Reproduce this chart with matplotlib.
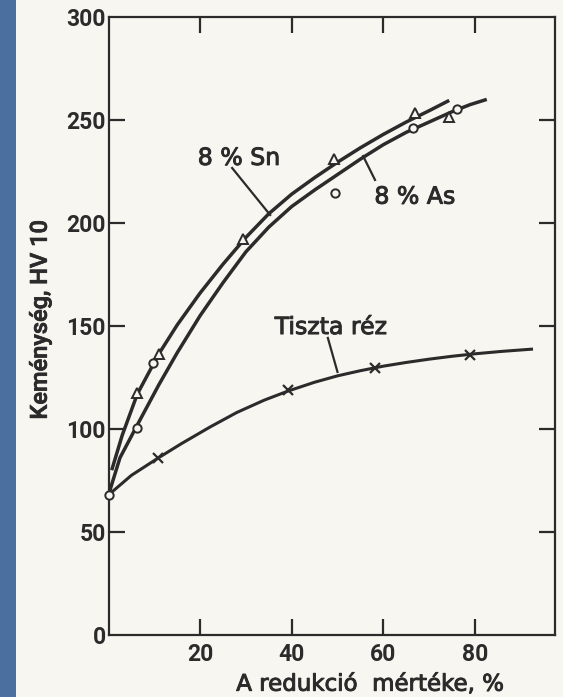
import matplotlib
matplotlib.use("Agg")
import matplotlib.pyplot as plt
from matplotlib.patches import Rectangle
import matplotlib.patheffects as pe

# ---- data ----
sn_curve_x = [0.7, 3, 6.3, 11, 15, 20, 25, 30, 35, 40, 45, 50, 55, 60, 65, 70, 74.4]
sn_curve_y = [80, 97, 117, 136.5, 150.5, 166, 180, 193, 204.5, 214, 222, 229.5, 236.5, 243, 249, 254.5, 259.5]
sn_mark_x = [6.3, 11.1, 29.4, 49.2, 66.9, 74.4]
sn_mark_y = [117.3, 136.4, 192.1, 230.9, 253.3, 251.3]

as_curve_x = [0, 2.5, 6.3, 11, 15, 20, 25, 30, 35, 40, 45, 50, 55, 60, 65, 70, 75, 79, 82.6]
as_curve_y = [68, 86, 102, 121.5, 137, 155, 171, 186, 198, 208, 216, 223.5, 231, 238, 244, 249, 254, 257.5, 260]
as_mark_x = [0.0, 6.3, 9.7, 49.5, 66.6, 76.0]
as_mark_y = [68.0, 100.5, 131.9, 214.6, 246.0, 255.3]

cu_curve_x = [0, 5, 10.9, 16, 22.2, 28, 34, 39.3, 45, 50, 55, 60, 65, 70, 75, 80, 86, 92.7]
cu_curve_y = [68, 77.5, 86, 93, 101, 108, 114, 118.5, 122.7, 125.8, 128.3, 130.5, 132.3, 133.9, 135.3, 136.5, 137.7, 138.8]
cu_mark_x = [10.9, 39.3, 58.2, 78.9]
cu_mark_y = [85.8, 119.0, 129.7, 135.9]

x_ticks = [20, 40, 60, 80]
y_ticks = [50, 100, 150, 200, 250]
y_end_ticks = [0, 300]

paper = "#f7f6f0"
ink = "#2b2b2b"

fig = plt.figure(figsize=(5.63, 6.97), dpi=100, facecolor=paper)
fig.patches.append(Rectangle((0, 0), 15.5 / 563, 1, transform=fig.transFigure,
                             facecolor="#4b6f9f", edgecolor="none", zorder=-10))

ax = fig.add_axes([108.5 / 563, 1 - 635 / 697, (555 - 108.5) / 563, (635 - 17) / 697])
ax.set_facecolor(paper)
ax.set_xlim(0, 97.5)
ax.set_ylim(0, 300)

for s in ax.spines.values():
    s.set_color(ink)
    s.set_linewidth(1.6)

lw = 2.5
for cx, cy, w in [(sn_curve_x, sn_curve_y, lw), (as_curve_x, as_curve_y, lw), (cu_curve_x, cu_curve_y, 2.2)]:
    ax.plot(cx, cy, color=ink, lw=w, solid_capstyle="butt", solid_joinstyle="round", zorder=2)

ax.plot(sn_mark_x, sn_mark_y, ls="none", marker="^", ms=6.5, mfc=paper, mec=ink, mew=1.4, zorder=4)
ax.plot(as_mark_x, as_mark_y, ls="none", marker="o", ms=6, mfc=paper, mec=ink, mew=1.4, zorder=4,
        clip_on=False)
ax.plot(cu_mark_x, cu_mark_y, ls="none", marker="x", ms=7.5, mec=ink, mew=1.6, zorder=4)

# ticks
tick_font = dict(family=["Roboto", "DejaVu Sans"], weight="bold", size=16.5)
ax.set_xticks(x_ticks)
ax.set_xticklabels([str(v) for v in x_ticks], fontdict=tick_font, color=ink)
ax.set_yticks(y_ticks)
ax.set_yticklabels([str(v) for v in y_ticks], fontdict=tick_font, color=ink)
ax.set_yticks(y_end_ticks, minor=True)
ax.set_yticklabels([str(v) for v in y_end_ticks], minor=True, fontdict=tick_font, color=ink)
ax.tick_params(axis="both", which="major", direction="in", length=11.5, width=1.6,
               color=ink, top=True, right=True)
ax.tick_params(axis="y", which="major", pad=2)
ax.tick_params(axis="x", which="major", pad=6)
ax.tick_params(axis="y", which="minor", length=0, pad=2)

thick = [pe.withStroke(linewidth=0.7, foreground=ink)]
lab_font = ["DejaVu Sans"]
xl = ax.set_xlabel("A redukció  mértéke, %", family=lab_font, size=16.5, color=ink)
xl.set_path_effects(thick)
ax.xaxis.set_label_coords(0.586, -0.061)
yl = ax.set_ylabel("Keménység, HV 10", family=["Roboto", "DejaVu Sans"], weight="medium",
                   size=17, color=ink)
yl.set_path_effects([pe.withStroke(linewidth=0.5, foreground=ink)])
ax.yaxis.set_label_coords(-0.127, 0.51)

# annotations
for x, y, s in [(28.5, 231.6, "8 % Sn"), (66.9, 212.8, "8 % As"), (48.6, 149.5, "Tiszta réz")]:
    t = ax.text(x, y, s, family=lab_font, size=17, color=ink, ha="center", va="center")
    t.set_path_effects(thick)
ax.plot([27.0, 35.3], [226.7, 203.9], color=ink, lw=1.6)
ax.plot([55.6, 58.2], [232.5, 220.9], color=ink, lw=1.6)
ax.plot([47.9, 50.0], [144.2, 127.7], color=ink, lw=1.6)

fig.savefig("out.png", dpi=100, facecolor=paper)
